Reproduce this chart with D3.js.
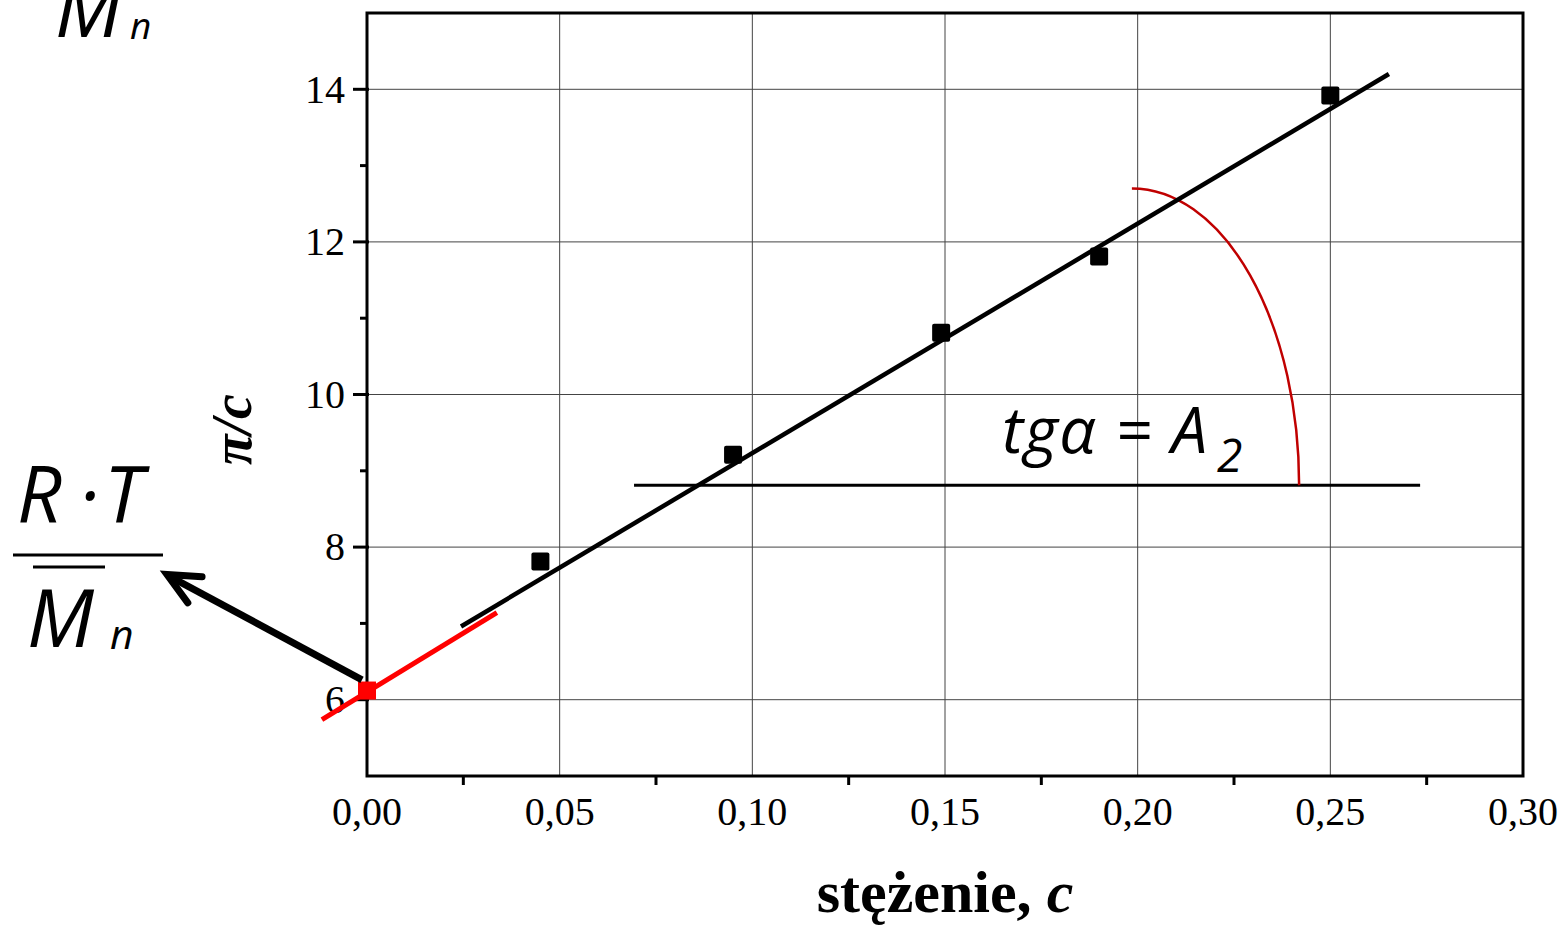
<!DOCTYPE html>
<html>
<head>
<meta charset="utf-8">
<script src="https://cdn.jsdelivr.net/npm/d3@7"></script>
<style>
  body { margin: 0; background: #fff; }
  svg { display: block; }
</style>
</head>
<body>
<div id="chart"></div>
<script>
// -------------------- DATA --------------------
const conc = [0.045, 0.095, 0.149, 0.190, 0.250];
const piOverC = [7.81, 9.21, 10.81, 11.81, 13.92];

// extrapolated point c -> 0
const interceptC = 0;
const interceptY = 6.12;

// fitted line (black) and extrapolation (red), endpoints
const fitC = [0.0244, 0.2652];
const fitY = [6.96, 14.20];
const extC = [-0.0117, 0.0337];
const extY = [5.74, 7.14];

// horizontal reference line + angle arc
const horC = [0.0693, 0.2733];
const horY = 8.81;
const arcCenterC = 0.1985;
const arcTopY = 12.70;
const arcRightC = 0.2419;

// arrow to RT/Mn label
const arrowTail = [-0.0013, 6.26];
const arrowTip = [-0.0519, 7.64];
const arrowArm1 = [-0.0428, 7.61];
const arrowArm2 = [-0.0465, 7.27];

const xMajor = [0, 0.05, 0.10, 0.15, 0.20, 0.25, 0.30];
const xMinor = [0.025, 0.075, 0.125, 0.175, 0.225, 0.275];
const yMajor = [6, 8, 10, 12, 14];
const yMinor = [7, 9, 11, 13];

// -------------------- VISUALIZATION --------------------
const width = 1563, height = 925;
const serif = "'Liberation Serif', 'Times New Roman', serif";
const sans = "'Open Sans', 'Noto Sans', sans-serif";

const svg = d3.select("#chart").append("svg")
    .attr("width", width)
    .attr("height", height)
    .attr("viewBox", [0, 0, width, height]);

const x = d3.scaleLinear().domain([0, 0.30]).range([367, 1523]);
const y = d3.scaleLinear().domain([5, 15]).range([776, 13]);

// grid
const grid = svg.append("g").attr("stroke", "#444").attr("stroke-width", 1);
grid.selectAll(".gx").data(xMajor.slice(1, -1)).join("line")
    .attr("x1", d => x(d)).attr("x2", d => x(d))
    .attr("y1", y(5)).attr("y2", y(15));
grid.selectAll(".gy").data(yMajor).join("line")
    .attr("x1", x(0)).attr("x2", x(0.30))
    .attr("y1", d => y(d)).attr("y2", d => y(d));

// frame
svg.append("rect")
    .attr("x", x(0)).attr("y", y(15))
    .attr("width", x(0.30) - x(0)).attr("height", y(5) - y(15))
    .attr("fill", "none").attr("stroke", "#000").attr("stroke-width", 3);

// ticks
const ticks = svg.append("g").attr("stroke", "#000").attr("stroke-width", 3);
ticks.selectAll(".xm").data(xMinor).join("line")
    .attr("x1", d => x(d)).attr("x2", d => x(d))
    .attr("y1", y(5)).attr("y2", y(5) + 9);
ticks.selectAll(".ym").data(yMajor).join("line")
    .attr("x1", x(0) - 14).attr("x2", x(0) + 2)
    .attr("y1", d => y(d)).attr("y2", d => y(d));
ticks.selectAll(".yn").data(yMinor).join("line")
    .attr("x1", x(0) - 7).attr("x2", x(0))
    .attr("y1", d => y(d)).attr("y2", d => y(d));

// tick labels
const fmt = d => d3.format(".2f")(d).replace(".", ",");
svg.append("g")
    .attr("font-family", serif).attr("font-size", 40).attr("text-anchor", "middle")
    .selectAll("text").data(xMajor).join("text")
    .attr("x", d => x(d)).attr("y", 825)
    .text(fmt);
svg.append("g")
    .attr("font-family", serif).attr("font-size", 40).attr("text-anchor", "end")
    .selectAll("text").data(yMajor).join("text")
    .attr("x", x(0) - 22).attr("y", d => y(d)).attr("dy", "0.33em")
    .text(d => d);

// axis titles
const xt = svg.append("text")
    .attr("x", x(0.15)).attr("y", 912)
    .attr("text-anchor", "middle")
    .attr("font-family", serif).attr("font-size", 60).attr("font-weight", "bold");
xt.append("tspan").text("stężenie, ");
xt.append("tspan").attr("font-style", "italic").text("c");

svg.append("text")
    .attr("transform", `translate(251,${y(9.54)}) rotate(-90)`)
    .attr("text-anchor", "middle")
    .attr("font-family", serif).attr("font-size", 56)
    .attr("font-weight", "bold").attr("font-style", "italic")
    .text("π/c");

// horizontal reference line
svg.append("line")
    .attr("x1", x(horC[0])).attr("x2", x(horC[1]))
    .attr("y1", y(horY)).attr("y2", y(horY))
    .attr("stroke", "#000").attr("stroke-width", 3);

// angle arc (quarter ellipse)
const rx = x(arcRightC) - x(arcCenterC);
const ry = y(horY) - y(arcTopY);
svg.append("path")
    .attr("d", `M${x(arcCenterC)},${y(arcTopY)} A${rx},${ry} 0 0 1 ${x(arcRightC)},${y(horY)}`)
    .attr("fill", "none").attr("stroke", "#c00000").attr("stroke-width", 2.5);

// fit line
svg.append("line")
    .attr("x1", x(fitC[0])).attr("y1", y(fitY[0]))
    .attr("x2", x(fitC[1])).attr("y2", y(fitY[1]))
    .attr("stroke", "#000").attr("stroke-width", 4.5);

// red extrapolation
svg.append("line")
    .attr("x1", x(extC[0])).attr("y1", y(extY[0]))
    .attr("x2", x(extC[1])).attr("y2", y(extY[1]))
    .attr("stroke", "#ff0000").attr("stroke-width", 5);

// markers
const ms = 18;
svg.append("g").selectAll("rect").data(conc).join("rect")
    .attr("x", d => x(d) - ms / 2)
    .attr("y", (d, i) => y(piOverC[i]) - ms / 2)
    .attr("width", ms).attr("height", ms).attr("rx", 2)
    .attr("fill", "#000");

svg.append("rect")
    .attr("x", x(interceptC) - ms / 2).attr("y", y(interceptY) - ms / 2)
    .attr("width", ms).attr("height", ms)
    .attr("fill", "#ff0000");

// arrow
svg.append("line")
    .attr("x1", x(arrowTail[0])).attr("y1", y(arrowTail[1]))
    .attr("x2", x(arrowTip[0]) + 3).attr("y2", y(arrowTip[1]) + 2)
    .attr("stroke", "#000").attr("stroke-width", 7);
svg.append("path")
    .attr("d", d3.line()([
        [x(arrowArm1[0]), y(arrowArm1[1])],
        [x(arrowTip[0]), y(arrowTip[1])],
        [x(arrowArm2[0]), y(arrowArm2[1])]
    ]))
    .attr("fill", "none").attr("stroke", "#000").attr("stroke-width", 7)
    .attr("stroke-linecap", "round").attr("stroke-linejoin", "miter");

// tg alpha = A2
const tg = svg.append("text")
    .attr("x", 1002).attr("y", 453)
    .attr("font-family", sans).attr("font-style", "italic").attr("font-size", 64)
    .attr("letter-spacing", 1.5);
tg.append("tspan").text("tgα = A");
tg.append("tspan").attr("font-size", 46).attr("dy", 19).attr("dx", 8).text("2");

// RT / Mn fraction
const math = svg.append("g")
    .attr("font-family", sans).attr("font-style", "italic").attr("fill", "#000");
math.append("text").attr("x", 17).attr("y", 523).attr("font-size", 78).text("R");
math.append("text").attr("x", 89).attr("y", 523).attr("font-size", 78)
    .attr("text-anchor", "middle").text("·");
math.append("text").attr("x", 104).attr("y", 523).attr("font-size", 78).text("T");
math.append("line").attr("x1", 13).attr("x2", 163).attr("y1", 555).attr("y2", 555)
    .attr("stroke", "#000").attr("stroke-width", 3);
math.append("line").attr("x1", 33).attr("x2", 105).attr("y1", 567).attr("y2", 567)
    .attr("stroke", "#000").attr("stroke-width", 3);
math.append("text").attr("x", 27).attr("y", 647).attr("font-size", 80).text("M");
math.append("text").attr("x", 110).attr("y", 649).attr("font-size", 41).text("n");

// clipped Mn at top
math.append("text").attr("x", 55).attr("y", 37).attr("font-size", 80).text("M");
math.append("text").attr("x", 130).attr("y", 39).attr("font-size", 37).text("n");
</script>
</body>
</html>
